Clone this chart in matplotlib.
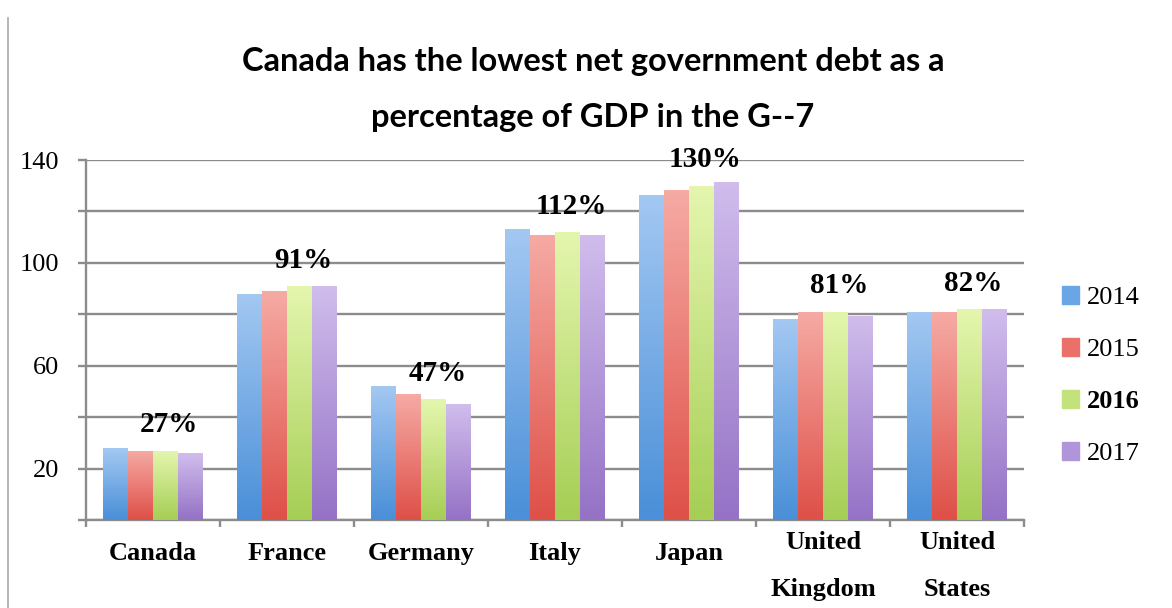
import numpy as np
import matplotlib
matplotlib.use("Agg")
import matplotlib.pyplot as plt
from matplotlib.colors import LinearSegmentedColormap
from matplotlib.lines import Line2D

countries = ['Canada', 'France', 'Germany', 'Italy', 'Japan', 'United\nKingdom', 'United\nStates']
years = ['2014', '2015', '2016', '2017']
debt_2014 = [28, 88, 52, 113, 126.5, 78, 81]
debt_2015 = [27, 89, 49, 111, 128.5, 81, 81]
debt_2016 = [27, 91, 47, 112, 130, 81, 82]
debt_2017 = [26, 91, 45, 111, 131.5, 79.5, 82]
bar_labels = ['27%', '91%', '47%', '112%', '130%', '81%', '82%']

series = [debt_2014, debt_2015, debt_2016, debt_2017]
# (top colour, bottom colour) of the gradient fill
grads = [('#a3c8f2', '#4a8fd8'), ('#f6aaa4', '#de5048'), ('#e4f6ae', '#a6ce55'), ('#d0bdec', '#9572c6')]
mids = ['#6aa6e6', '#ea716a', '#c3e27e', '#b095da']

serif = ['Liberation Serif', 'DejaVu Serif']

fig = plt.figure(figsize=(11.72, 6.08), dpi=100)
ax = fig.add_axes([86 / 1172, 1 - 520 / 608, (1024 - 86) / 1172, 360 / 608])

x = np.arange(len(countries))
w = 0.185
grad = np.linspace(0, 1, 100).reshape(-1, 1)
for i, vals in enumerate(series):
    bars = ax.bar(x + (i - 1.5) * w, vals, w, color=mids[i], zorder=2, linewidth=0)
    cmap = LinearSegmentedColormap.from_list('g%d' % i, [grads[i][1], grads[i][0]])
    for b in bars:
        x0, y0 = b.get_x(), b.get_y()
        im = ax.imshow(grad, extent=[x0, x0 + b.get_width(), y0, y0 + b.get_height()],
                       origin='lower', aspect='auto', cmap=cmap, zorder=3)
        im.set_clip_path(b)

# data labels above the 2016 bars
for i, lab in enumerate(bar_labels):
    ax.annotate(lab, (x[i] + 0.5 * w + 0.03, debt_2016[i]), xytext=(0, 9), textcoords='offset points',
                ha='center', va='bottom', fontsize=21, fontweight='bold', family=serif)

ax.set_xlim(-0.5, 6.5)
ax.set_ylim(0, 140)

grid_c = '#8c8c8c'
ax.set_yticks(range(0, 141, 20))
ax.set_yticklabels(['', '20', '', '60', '', '100', '', '140'], family=serif, fontsize=19)
ax.yaxis.grid(True, color=grid_c, linewidth=1.7, zorder=0)
ax.set_axisbelow(True)
ax.tick_params(axis='y', length=6, width=1.7, color=grid_c, pad=13)

ax.set_xticks(x)
ax.set_xticklabels(countries, family=serif, fontsize=19, fontweight='bold', linespacing=2.3)
ax.set_xticks(np.arange(-0.5, 7, 1), minor=True)
ax.tick_params(axis='x', which='major', length=0, pad=16)
ax.tick_params(axis='x', which='minor', length=5, width=1.7, color=grid_c)
for t in ax.xaxis.get_major_ticks()[5:]:
    t.set_pad(8)

for s in ['top', 'right']:
    ax.spines[s].set_visible(False)
for s in ['left', 'bottom']:
    ax.spines[s].set_color(grid_c)
    ax.spines[s].set_linewidth(1.7)

handles = [plt.Rectangle((0, 0), 1, 1, color=c) for c in mids]
leg = fig.legend(handles, years, loc='upper left', bbox_to_anchor=(1062 / 1172, 1 - 286 / 608),
                 frameon=False, prop={'family': serif, 'size': 19}, handlelength=0.65, handleheight=0.65,
                 handletextpad=0.3, labelspacing=1.1, borderpad=0, borderaxespad=0)
leg.get_texts()[2].set_fontweight('bold')

title_font = ['Lato', 'DejaVu Sans']
fig.text(593 / 1172, 1 - 62 / 608, 'Canada has the lowest net government debt as a',
         ha='center', va='center', fontsize=23.5, fontweight='bold', family=title_font)
fig.text(593 / 1172, 1 - 117 / 608, 'percentage of GDP in the G--7',
         ha='center', va='center', fontsize=23.5, fontweight='bold', family=title_font)

fig.add_artist(Line2D([8 / 1172, 8 / 1172], [0, 1 - 18 / 608], transform=fig.transFigure,
                      color='#a8a8a8', linewidth=1.2))

fig.savefig('out.png', dpi=100)
